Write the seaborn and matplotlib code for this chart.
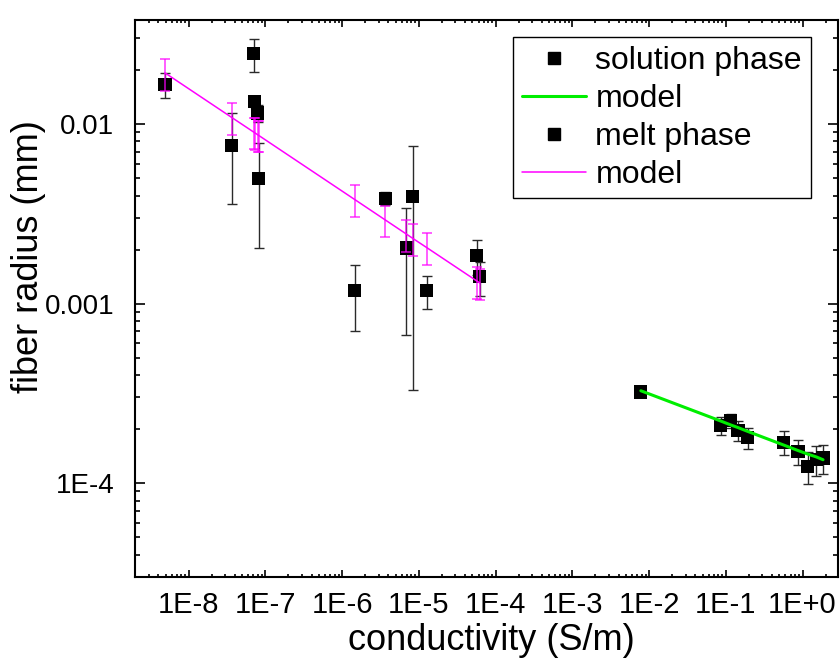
import numpy as np
import pandas as pd
import matplotlib
matplotlib.use("Agg")
import matplotlib.pyplot as plt
from matplotlib.lines import Line2D
from matplotlib.ticker import LogLocator, NullFormatter
import seaborn as sns

# ---- data ----
melt_x = [4.92e-9, 3.64e-8, 7.03e-8, 7.24e-8, 7.94e-8, 8.18e-8, 1.46e-6,
          3.67e-6, 6.88e-6, 8.32e-6, 1.27e-5, 5.69e-5, 6.22e-5]
melt_y = [0.0166, 0.00759, 0.0246, 0.0134, 0.01154, 0.00495, 0.001178,
          0.00386, 0.00204, 0.00393, 0.001178, 0.001845, 0.001409]
melt_err = [0.0027, 0.0040, 0.0050, 0.0010, 0.0013, 0.0029, 0.00047,
            0.0003, 0.00137, 0.0036, 0.00024, 0.00041, 0.0003]
melt_model = [0.01928, 0.01089, 0.00903, 0.00896, 0.00872, 0.00865, 0.00380,
              0.00292, 0.00244, 0.00231, 0.00205, 0.001337, 0.001303]
melt_model_err = [0.0039, 0.0022, 0.0018, 0.0018, 0.0017, 0.0017, 0.00076,
                  0.00058, 0.00049, 0.00046, 0.00041, 0.00027, 0.00026]

sol_x = [7.82e-3, 0.0855, 0.1156, 0.144, 0.194, 0.568, 0.871, 1.175, 1.51, 1.85]
sol_y = [3.22e-4, 2.09e-4, 2.23e-4, 1.97e-4, 1.79e-4, 1.69e-4, 1.50e-4,
         1.24e-4, 1.35e-4, 1.38e-4]
sol_err = [5e-6, 2.4e-5, 2.0e-5, 2.5e-5, 2.5e-5, 2.5e-5, 2.4e-5, 2.5e-5,
           2.6e-5, 2.6e-5]
sol_model = [3.27e-4, 2.22e-4, 2.11e-4, 2.04e-4, 1.94e-4, 1.63e-4, 1.52e-4,
             1.45e-4, 1.40e-4, 1.35e-4]

x_ticks = [1e-8, 1e-7, 1e-6, 1e-5, 1e-4, 1e-3, 1e-2, 1e-1, 1e0]
x_tick_labels = ["1E-8", "1E-7", "1E-6", "1E-5", "1E-4", "1E-3", "1E-2", "1E-1", "1E+0"]
y_ticks = [1e-4, 1e-3, 1e-2]
y_tick_labels = ["1E-4", "0.001", "0.01"]

legend_labels = ["solution phase", "model", "melt phase", "model"]

# ---- style ----
sns.set_theme(style="ticks")
plt.rcParams["font.family"] = ["Liberation Sans", "DejaVu Sans"]
plt.rcParams["text.color"] = "black"
plt.rcParams["axes.labelcolor"] = "black"
plt.rcParams["xtick.color"] = "black"
plt.rcParams["ytick.color"] = "black"
plt.rcParams["xtick.labelcolor"] = "black"
plt.rcParams["ytick.labelcolor"] = "black"

fig = plt.figure(figsize=(8.4, 6.62), dpi=100)
ax = fig.add_axes([135 / 840, (662 - 577) / 662, 703 / 840, 557 / 662])
ax.set_xscale("log")
ax.set_yscale("log")

melt_df = pd.DataFrame({"x": melt_x, "y": melt_y, "m": melt_model})
sol_df = pd.DataFrame({"x": sol_x, "y": sol_y, "m": sol_model})

# black error bars
ax.errorbar(melt_x, melt_y, yerr=melt_err, fmt="none", ecolor="#2a2a2a",
            elinewidth=1.0, capsize=3.6, capthick=1.0, zorder=1)
ax.errorbar(sol_x, sol_y, yerr=sol_err, fmt="none", ecolor="#2a2a2a",
            elinewidth=1.0, capsize=3.6, capthick=1.0, zorder=1)

# squares
sns.scatterplot(data=melt_df, x="x", y="y", marker="s", s=90, color="black",
                edgecolor="none", linewidth=0, ax=ax, zorder=2, legend=False)
sns.scatterplot(data=sol_df, x="x", y="y", marker="s", s=90, color="black",
                edgecolor="none", linewidth=0, ax=ax, zorder=2, legend=False)

# models
sns.lineplot(data=melt_df, x="x", y="m", color="#ff00ff", linewidth=1.1,
             ax=ax, zorder=4, errorbar=None, legend=False)
ax.errorbar(melt_x, melt_model, yerr=melt_model_err, fmt="none",
            ecolor="#ff00ff", alpha=0.8, elinewidth=1.1, capsize=3.6,
            capthick=1.1, zorder=3)
sns.lineplot(data=sol_df, x="x", y="m", color="#00ee00", linewidth=2.2,
             ax=ax, zorder=4, errorbar=None, legend=False)

ax.set_xlim(2e-9, 2.9)
ax.set_ylim(3.0e-5, 0.038)

ax.set_xticks(x_ticks)
ax.set_xticklabels(x_tick_labels)
ax.set_yticks(y_ticks)
ax.set_yticklabels(y_tick_labels)
ax.xaxis.set_minor_locator(LogLocator(base=10, subs=np.arange(2, 10), numticks=30))
ax.yaxis.set_minor_locator(LogLocator(base=10, subs=np.arange(2, 10), numticks=30))
ax.xaxis.set_minor_formatter(NullFormatter())
ax.yaxis.set_minor_formatter(NullFormatter())

for s in ax.spines.values():
    s.set_visible(True)
    s.set_color("black")
    s.set_linewidth(1.5)

ax.tick_params(axis="both", which="both", direction="in", top=True, right=True,
               color="black", width=1.2, labelcolor="black")
ax.tick_params(axis="x", which="major", length=5, pad=10, labelsize=21)
ax.tick_params(axis="x", which="minor", length=2.5)
ax.tick_params(axis="y", which="major", length=7, pad=15, labelsize=20)
ax.tick_params(axis="y", which="minor", length=3.6)

ax.set_xlabel("conductivity (S/m)", fontsize=26, color="black")
ax.set_ylabel("fiber radius (mm)", fontsize=26, color="black")
ax.xaxis.set_label_coords(0.507, -0.082)
ax.yaxis.set_label_coords(-0.126, 0.576)

handles = [
    Line2D([], [], marker="s", color="black", linestyle="none", markersize=9),
    Line2D([], [], color="#00ee00", linewidth=2.2),
    Line2D([], [], marker="s", color="black", linestyle="none", markersize=9),
    Line2D([], [], color="#ff00ff", linewidth=1.1),
]
leg = ax.legend(handles, legend_labels, loc="upper right",
                bbox_to_anchor=(0.961, 0.969), borderaxespad=0,
                fontsize=23, frameon=True, fancybox=False, framealpha=1,
                edgecolor="black", handlelength=2.0, handletextpad=0.3,
                borderpad=0.27, labelspacing=0.25)
leg.get_frame().set_linewidth(1.0)
for t in leg.get_texts():
    t.set_color("black")

fig.savefig("out.png", dpi=100)
